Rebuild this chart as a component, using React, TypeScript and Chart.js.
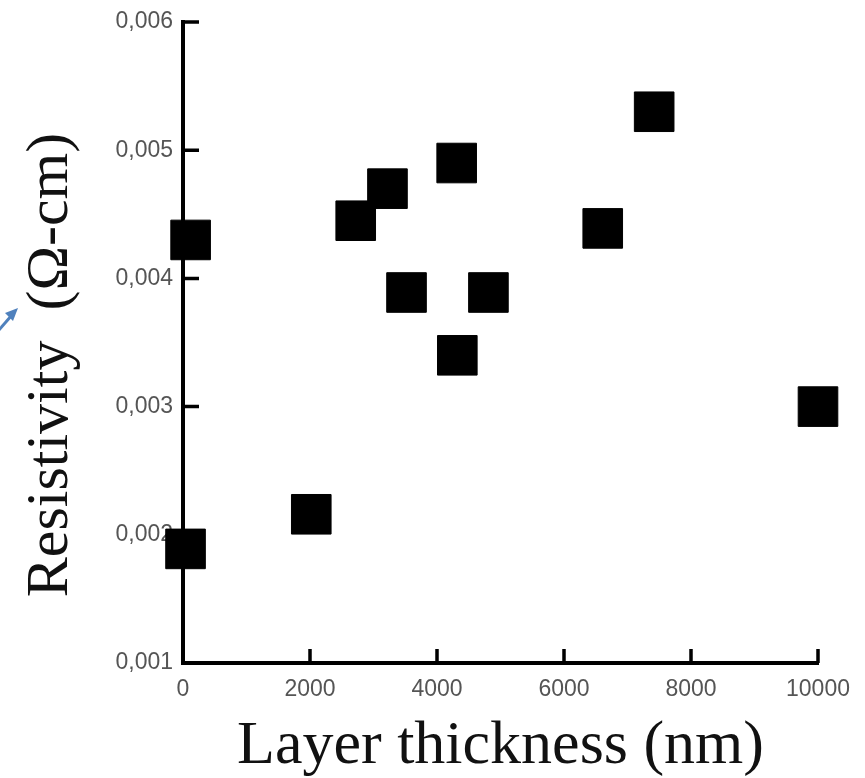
import React, { useEffect, useRef } from "react";
import { Chart, registerables } from "chart.js";

Chart.register(...registerables);

// Layer thickness (nm)
const thickness = [120, 40, 2020, 2720, 3220, 3520, 4310, 4320, 4810, 6610, 7420, 10000];
// Resistivity (Ω-cm)
const resistivity = [0.0043, 0.00189, 0.00216, 0.00445, 0.0047, 0.00389, 0.0049, 0.0034, 0.00389, 0.00439, 0.0053, 0.003];

const xTicks = [0, 2000, 4000, 6000, 8000, 10000];
const yTicks = [0.001, 0.002, 0.003, 0.004, 0.005, 0.006];
const yTickLabels = ["0,001", "0,002", "0,003", "0,004", "0,005", "0,006"];

const xTitle = "Layer thickness (nm)";
const yTitle = "Resistivity  (Ω-cm)   ";

const innerTicks = {
  id: "innerTicks",
  beforeDatasetsDraw(chart: any) {
    const { ctx, chartArea, scales } = chart;
    ctx.save();
    ctx.strokeStyle = "#000";
    ctx.lineWidth = 3.5;
    ctx.beginPath();
    xTicks.slice(1).forEach((v) => {
      const px = scales.x.getPixelForValue(v);
      ctx.moveTo(px, chartArea.bottom);
      ctx.lineTo(px, chartArea.bottom - 14);
    });
    yTicks.slice(1).forEach((v) => {
      const py = scales.y.getPixelForValue(v);
      ctx.moveTo(chartArea.left, py);
      ctx.lineTo(chartArea.left + 16, py);
    });
    ctx.stroke();
    ctx.restore();
  },
  afterDraw(chart: any) {
    // small blue pointer arrow at the left edge (annotation)
    const { ctx } = chart;
    ctx.save();
    ctx.strokeStyle = "#4f81bd";
    ctx.fillStyle = "#4f81bd";
    ctx.lineWidth = 3;
    ctx.beginPath();
    ctx.moveTo(-2, 331);
    ctx.lineTo(12, 315);
    ctx.stroke();
    ctx.beginPath();
    ctx.moveTo(18, 308);
    ctx.lineTo(5, 313);
    ctx.lineTo(13, 321);
    ctx.closePath();
    ctx.fill();
    ctx.restore();
  },
};

export default function App() {
  const ref = useRef<HTMLCanvasElement>(null);
  useEffect(() => {
    if (!ref.current) return;
    const chart = new Chart(ref.current, {
      type: "scatter",
      data: {
        datasets: [
          {
            data: thickness.map((x, i) => ({ x, y: resistivity[i] })),
            pointStyle: "rect",
            pointRadius: 28,
            pointHoverRadius: 28,
            backgroundColor: "#000",
            borderColor: "#000",
            borderWidth: 1,
            clip: false as any,
          },
        ],
      },
      options: {
        animation: false,
        responsive: false,
        maintainAspectRatio: false,
        layout: { autoPadding: false, padding: { top: 22, right: 47, left: 0, bottom: 0 } },
        plugins: { legend: { display: false }, tooltip: { enabled: false } },
        scales: {
          x: {
            type: "linear",
            min: 0,
            max: 10000,
            grid: { display: false, drawTicks: false },
            border: { display: true, color: "#000", width: 4 },
            afterBuildTicks: (scale: any) => {
              scale.ticks = xTicks.map((value) => ({ value }));
            },
            afterFit: (scale: any) => {
              scale.height = 115;
              scale.paddingLeft = 0;
              scale.paddingRight = 0;
            },
            ticks: {
              padding: 13,
              color: "#555",
              font: { family: "'Liberation Sans', Arial, sans-serif", size: 23 },
              callback: (v: any) => String(v),
            },
            title: {
              display: true,
              text: xTitle,
              color: "#111",
              font: { family: "'Liberation Serif', 'Times New Roman', serif", size: 62, lineHeight: 1 },
              padding: { top: 0, bottom: 0 },
            },
          },
          y: {
            type: "linear",
            min: 0.001,
            max: 0.006,
            grid: { display: false, drawTicks: false },
            border: { display: true, color: "#000", width: 4 },
            afterBuildTicks: (scale: any) => {
              scale.ticks = yTicks.map((value) => ({ value }));
            },
            afterFit: (scale: any) => {
              scale.width = 183;
              scale.paddingTop = 0;
              scale.paddingBottom = 0;
            },
            ticks: {
              padding: 10,
              color: "#555",
              font: { family: "'Liberation Sans', Arial, sans-serif", size: 23 },
              callback: (v: any) => {
                const i = yTicks.findIndex((t) => Math.abs(t - v) < 1e-9);
                return i >= 0 ? yTickLabels[i] : "";
              },
            },
            title: {
              display: true,
              text: yTitle,
              color: "#111",
              font: { family: "'Liberation Serif', 'Times New Roman', serif", size: 60, lineHeight: 1.2 },
              padding: { top: 15, bottom: 0 },
            },
          },
        },
      },
      plugins: [innerTicks],
    });
    return () => chart.destroy();
  }, []);
  return (
    <div style={{ position: "absolute", left: 0, top: 0, width: 865, height: 778, background: "#fff" }}>
      <canvas ref={ref} width={865} height={778} />
    </div>
  );
}
